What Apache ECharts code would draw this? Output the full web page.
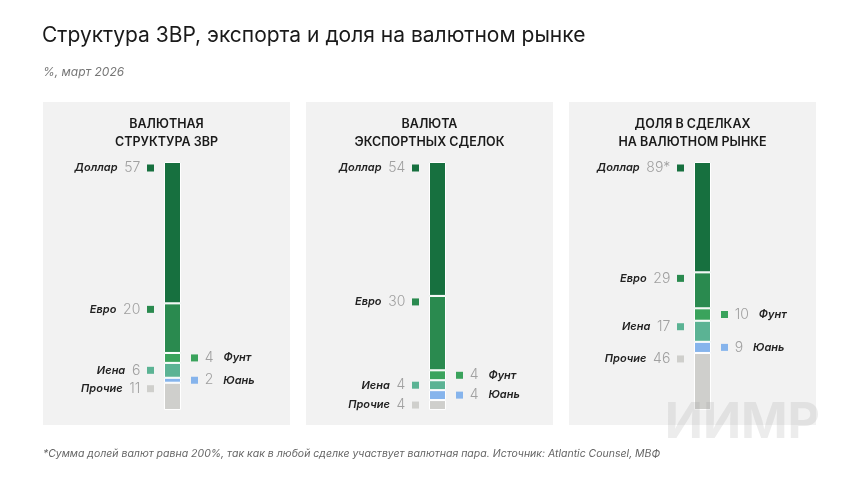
<!DOCTYPE html><html><head><meta charset="utf-8">
<script src="https://cdn.jsdelivr.net/npm/echarts@6/dist/echarts.min.js"></script>
<style>html,body{margin:0;background:#fff}#c{width:860px;height:484px}</style></head><body><div id="c"></div>
<script>
const currencies = ['Доллар','Евро','Фунт','Иена','Юань','Прочие'];
const panelTitles = ['ВАЛЮТНАЯ\nСТРУКТУРА ЗВР','ВАЛЮТА\nЭКСПОРТНЫХ СДЕЛОК','ДОЛЯ В СДЕЛКАХ\nНА ВАЛЮТНОМ РЫНКЕ'];
const reserves = [57,20,4,6,2,11];
const exportsShare = [54,30,4,4,4,4];
const fxMarket = [89,29,10,17,9,46];
const valueLabels = [['57','20','4','6','2','11'],['54','30','4','4','4','4'],['89*','29','10','17','9','46']];
const totals = [100,100,200];
const colors = ['#17703f','#2a8a4f','#3aa35c','#5bb394','#86b4ec','#cfcfcc'];
const rightSide = [false,false,true,false,true,false];

const panels = [reserves, exportsShare, fxMarket];
const panelX = [43,306,569], panelW = 247, barX = [164,429,694], barTop = 162, barH = 248;
const chart = echarts.init(document.getElementById('c'));
const grids=[],xAxes=[],yAxes=[],series=[];
const graphics=[
 {type:'text',left:42,top:25,style:{text:'Структура ЗВР, экспорта и доля на валютном рынке',fontFamily:'Inter',fontSize:21,fontWeight:400,fill:'#1a1a1a'}},
 {type:'text',left:43,top:66,style:{text:'%, март 2026',fontFamily:'Inter',fontSize:12,fontStyle:'italic',fill:'#777'}},
 {type:'text',left:43,top:448,style:{text:'*Сумма долей валют равна 200%, так как в любой сделке участвует валютная пара. Источник: Atlantic Counsel, МВФ',fontFamily:'Inter',fontSize:10.5,fontStyle:'italic',fill:'#666'}},
 {type:'text',right:40,top:398,z:100,style:{text:'ИИМР',fontFamily:'Inter',fontSize:50,fontWeight:'bold',fill:'rgba(150,150,150,0.18)'}}
];
panels.forEach((vals,p)=>{
  graphics.push({type:'rect',shape:{x:panelX[p],y:102,width:panelW,height:323},style:{fill:'#f2f2f2'},z:-10});
  graphics.push({type:'text',x:panelX[p]+panelW/2,y:115,style:{text:panelTitles[p],fontFamily:'Inter',fontSize:12.5,fontWeight:600,fill:'#1a1a1a',align:'center',lineHeight:18}});
  grids.push({left:barX[p],width:17,top:barTop,height:barH});
  xAxes.push({type:'category',gridIndex:p,data:['a'],show:false});
  yAxes.push({type:'value',gridIndex:p,min:0,max:totals[p],inverse:true,show:false});
  currencies.forEach((c,i)=>{
    const h = vals[i]/totals[p]*barH;
    const right = rightSide[i];
    const yOff = h>16 ? 6 : h/2;
    series.push({type:'bar',name:c,stack:'s'+p,xAxisIndex:p,yAxisIndex:p,barWidth:'100%',
      data:[vals[i]],itemStyle:{color:colors[i],borderColor:'#fff',borderWidth:1},
      label:{show:true,position: right?[27,yOff]:[-10,yOff],align:right?'left':'right',verticalAlign:'middle',
        formatter: right ? '{s|}  {v|'+valueLabels[p][i]+'}   {n|'+c+'}' : '{n|'+c+'}  {v|'+valueLabels[p][i]+'}  {s|}',
        rich:{n:{fontFamily:'Inter',fontStyle:'italic',fontWeight:600,fontSize:11,color:'#222'},
              v:{fontFamily:'Inter',fontWeight:300,fontSize:14,color:'#a0a0a0'},
              s:{width:7,height:7,backgroundColor:colors[i]}}}});
  });
});
chart.setOption({animation:false,grid:grids,xAxis:xAxes,yAxis:yAxes,series,graphic:graphics});
</script></body></html>
